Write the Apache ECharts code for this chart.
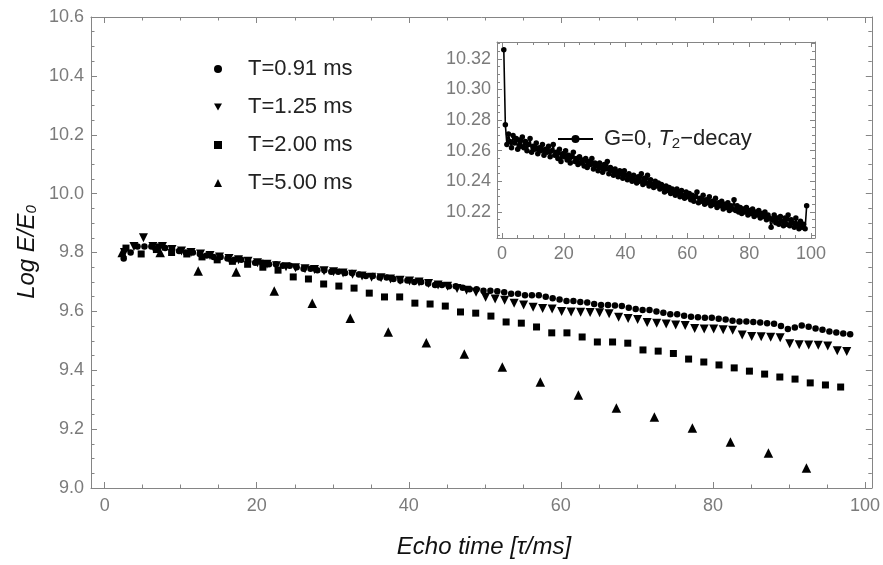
<!DOCTYPE html>
<html><head><meta charset="utf-8">
<script src="https://cdn.jsdelivr.net/npm/echarts@6/dist/echarts.min.js"></script>
<style>html,body{margin:0;padding:0;background:#fff}#c{width:883px;height:565px}</style>
</head><body><div id="c"></div>
<script>
// ---------------- data ----------------
const seriesNames = ['T=0.91 ms', 'T=1.25 ms', 'T=2.00 ms', 'T=5.00 ms'];
const insetName = 'G=0, T2-decay';

// echo-time grids (first echo, echo spacing) in ms
const t091Start = 2.5, t091Step = 0.91;
const t125Start = 2.6, t125Step = 1.25;
const t200Start = 2.8, t200Step = 2.0;
const t500Start = 2.3, t500Step = 5.0;
const insetStart = 0.6, insetStep = 0.5;

const t091Values = [9.78,9.80,9.82,9.82,9.82,9.82,9.815,9.81,9.805,9.80,9.80,9.795,9.79,9.785,9.785,9.78,9.775,9.775,9.77,9.765,
9.765,9.76,9.76,9.755,9.755,9.75,9.745,9.745,9.74,9.74,9.735,9.735,9.73,9.73,9.725,9.72,9.72,9.715,9.715,9.71,
9.705,9.705,9.70,9.70,9.695,9.69,9.69,9.685,9.685,9.68,9.675,9.675,9.67,9.67,9.668,9.665,9.66,9.66,9.655,9.655,
9.655,9.65,9.645,9.64,9.635,9.635,9.632,9.63,9.625,9.622,9.622,9.62,9.618,9.612,9.608,9.605,9.605,9.60,9.595,9.59,
9.59,9.585,9.582,9.58,9.578,9.578,9.575,9.572,9.568,9.566,9.566,9.564,9.562,9.56,9.558,9.55,9.54,9.545,9.552,9.548,
9.542,9.538,9.532,9.528,9.525,9.522];

const t125Values = [9.80,9.82,9.85,9.82,9.82,9.81,9.805,9.80,9.795,9.79,9.785,9.78,9.775,9.77,9.765,9.76,9.755,9.752,9.748,9.745,
9.742,9.738,9.735,9.73,9.726,9.72,9.716,9.714,9.71,9.706,9.703,9.70,9.695,9.69,9.685,9.678,9.672,9.665,9.648,9.642,
9.638,9.628,9.622,9.614,9.61,9.608,9.60,9.598,9.597,9.596,9.595,9.592,9.58,9.576,9.572,9.562,9.56,9.557,9.554,9.552,
9.542,9.54,9.54,9.538,9.536,9.52,9.515,9.514,9.512,9.51,9.49,9.487,9.486,9.485,9.482,9.466,9.464];

const t200Values = [9.815,9.795,9.81,9.80,9.795,9.785,9.775,9.77,9.76,9.75,9.74,9.717,9.71,9.693,9.686,9.679,9.662,9.649,9.649,9.628,
9.625,9.618,9.598,9.594,9.584,9.564,9.56,9.547,9.527,9.527,9.513,9.496,9.496,9.492,9.469,9.465,9.457,9.438,9.428,9.418,
9.408,9.397,9.387,9.377,9.37,9.357,9.35,9.343];

const t500Values = [9.80,9.80,9.737,9.734,9.669,9.628,9.577,9.530,9.493,9.455,9.411,9.360,9.316,9.272,9.241,9.204,9.156,9.119,9.068];

const insetValues = [10.326,10.277,
10.264,10.271,10.266,10.262,10.270,10.265,10.268,10.261,10.267,
10.263,10.269,10.262,10.266,10.260,10.264,10.268,10.259,10.263,10.261,
10.265,10.258,10.262,10.260,10.264,10.257,10.261,10.259,10.263,10.256,
10.260,10.264,10.257,10.259,10.255,10.261,10.253,10.258,10.256,10.260,
10.254,10.257,10.252,10.256,10.259,10.253,10.255,10.251,10.256,10.252,
10.254,10.250,10.255,10.249,10.253,10.251,10.255,10.248,10.252,10.250,
10.247,10.252,10.249,10.246,10.251,10.248,10.253,10.245,10.249,10.247,
10.244,10.248,10.246,10.243,10.247,10.245,10.242,10.247,10.244,10.241,
10.245,10.242,10.240,10.244,10.241,10.239,10.243,10.240,10.245,10.238,
10.242,10.239,10.244,10.237,10.241,10.238,10.236,10.240,10.237,10.239,
10.235,10.238,10.236,10.233,10.237,10.234,10.236,10.232,10.235,10.233,
10.231,10.235,10.232,10.230,10.234,10.231,10.229,10.233,10.230,10.232,
10.228,10.231,10.227,10.230,10.233,10.226,10.229,10.227,10.231,10.225,
10.228,10.226,10.230,10.224,10.227,10.225,10.229,10.223,10.226,10.224,
10.227,10.222,10.225,10.223,10.226,10.221,10.224,10.222,10.228,10.221,
10.224,10.220,10.223,10.219,10.222,10.220,10.223,10.218,10.221,10.219,
10.222,10.217,10.220,10.218,10.221,10.216,10.219,10.217,10.220,10.215,
10.218,10.216,10.210,10.215,10.218,10.213,10.216,10.212,10.217,10.214,
10.211,10.216,10.212,10.218,10.211,10.215,10.213,10.210,10.216,10.212,
10.209,10.214,10.210,10.212,10.209,10.224];

const mainXTicks = [0, 20, 40, 60, 80, 100];
const mainYTicks = [9.0, 9.2, 9.4, 9.6, 9.8, 10.0, 10.2, 10.4, 10.6];
const insetXTicks = [0, 20, 40, 60, 80, 100];
const insetYTicks = [10.22, 10.24, 10.26, 10.28, 10.30, 10.32];

// ---------------- helpers ----------------
function pairs(start, step, vals) { return vals.map((v, i) => [+(start + i * step).toFixed(3), v]); }
function minors(ticks, n, lo, hi) {
  const out = []; const D = ticks[1] - ticks[0]; const d = D / n;
  const first = ticks[0] - 5 * D;
  for (let k = 0; k < 300; k++) {
    const v = +(first + k * d).toFixed(6);
    const r = (v - ticks[0]) / D;
    if (v > lo && v < hi && Math.abs(r - Math.round(r)) > 1e-6) out.push(v);
  }
  return out;
}
const frameColor = '#858585';
const labelColor = '#7b7b7b';
const fontFam = 'Liberation Sans, Arial, sans-serif';

function axis(gridIndex, pos, min, max, ticks, tickLen, showLine, labels, fmt, margin) {
  return {
    type: 'value', gridIndex, position: pos, min, max,
    axisLine: { show: showLine, onZero: false, lineStyle: { color: frameColor, width: 1 } },
    axisTick: { show: true, inside: true, length: tickLen, customValues: ticks, lineStyle: { color: frameColor, width: 1 } },
    axisLabel: labels ? { show: true, customValues: ticks, formatter: fmt, color: labelColor, fontSize: 18, fontFamily: fontFam, margin } : { show: false },
    splitLine: { show: false }, minorTick: { show: false }
  };
}

const mX = [-1.8, 100.9], mY = [9.0, 10.6];
const iX = [-1.6, 101.3], iY = [10.203, 10.331];
const mXmin = minors(mainXTicks, 4, mX[0], mX[1]);
const mYmin = minors(mainYTicks, 4, mY[0], mY[1]);
const iXmin = minors(insetXTicks, 4, iX[0], iX[1]);
const iYmin = minors(insetYTicks, 4, iY[0], iY[1]);
const fInt = v => String(Math.round(v));
const f1 = v => v.toFixed(1);
const f2 = v => v.toFixed(2);

const xAxes = [
  axis(0, 'bottom', mX[0], mX[1], mainXTicks, 6, true, true, fInt, 9),
  axis(0, 'bottom', mX[0], mX[1], mXmin, 3.5, false, false),
  axis(0, 'top', mX[0], mX[1], mainXTicks, 6, true, false),
  axis(0, 'top', mX[0], mX[1], mXmin, 3.5, false, false),
  axis(1, 'bottom', iX[0], iX[1], insetXTicks, 5, true, true, fInt, 7),
  axis(1, 'bottom', iX[0], iX[1], iXmin, 3, false, false),
  axis(1, 'top', iX[0], iX[1], insetXTicks, 5, true, false),
  axis(1, 'top', iX[0], iX[1], iXmin, 3, false, false)
];
const yAxes = [
  axis(0, 'left', mY[0], mY[1], mainYTicks, 6, true, true, f1, 7),
  axis(0, 'left', mY[0], mY[1], mYmin, 3.5, false, false),
  axis(0, 'right', mY[0], mY[1], mainYTicks, 6, true, false),
  axis(0, 'right', mY[0], mY[1], mYmin, 3.5, false, false),
  axis(1, 'left', iY[0], iY[1], insetYTicks, 5, true, true, f2, 6),
  axis(1, 'left', iY[0], iY[1], iYmin, 3, false, false),
  axis(1, 'right', iY[0], iY[1], insetYTicks, 5, true, false),
  axis(1, 'right', iY[0], iY[1], iYmin, 3, false, false)
];

function sc(name, data, symbol, size, rot) {
  return { name, type: 'scatter', xAxisIndex: 0, yAxisIndex: 0, data, symbol, symbolSize: size, symbolRotate: rot || 0,
    itemStyle: { color: '#000', opacity: 1 }, emphasis: { disabled: true }, animation: false };
}

const option = {
  animation: false,
  backgroundColor: '#fff',
  grid: [
    { left: 91, top: 17, width: 786, height: 471 },
    { left: 497, top: 42, width: 318, height: 196 }
  ],
  xAxis: xAxes,
  yAxis: yAxes,
  legend: [
    { data: [
        { name: seriesNames[0], icon: 'circle' },
        { name: seriesNames[1], icon: 'path://M0,0L10,0L5,9Z' },
        { name: seriesNames[2], icon: 'rect' },
        { name: seriesNames[3], icon: 'triangle' }
      ],
      orient: 'vertical', left: 209, top: 53, itemWidth: 8, itemHeight: 8, itemGap: 16,
      selectedMode: false, itemStyle: { color: '#000' },
      textStyle: { fontSize: 22, lineHeight: 20, color: '#222', fontFamily: fontFam, padding: [0, 0, 0, 21] } },
    { data: [insetName], left: 552, top: 123, itemWidth: 35, itemHeight: 10, selectedMode: false,
      formatter: () => '{n|G=0, }{i|T}{s|2}{n|\u2212decay}',
      textStyle: { color: '#222', fontFamily: fontFam, padding: [0, 0, 0, 6],
        rich: { n: { fontSize: 22, fontFamily: fontFam, color: '#222' },
                i: { fontSize: 22, fontStyle: 'italic', fontFamily: fontFam, color: '#222' },
                s: { fontSize: 15, fontFamily: fontFam, color: '#222', padding: [10, 0, 0, 0] } } } }
  ],
  series: [
    sc(seriesNames[0], pairs(t091Start, t091Step, t091Values), 'circle', 6.5),
    sc(seriesNames[1], pairs(t125Start, t125Step, t125Values), 'triangle', 9, 180),
    sc(seriesNames[2], pairs(t200Start, t200Step, t200Values), 'rect', 7),
    sc(seriesNames[3], pairs(t500Start, t500Step, t500Values), 'triangle', 9.5),
    { name: insetName, type: 'line', xAxisIndex: 4, yAxisIndex: 4, data: pairs(insetStart, insetStep, insetValues),
      symbol: 'circle', symbolSize: 5.5, showSymbol: true, showAllSymbol: true, lineStyle: { color: '#000', width: 1.6 }, itemStyle: { color: '#000' },
      emphasis: { disabled: true }, animation: false }
  ],
  graphic: [
    { type: 'text', x: 27, y: 252, rotation: Math.PI / 2,
      style: { text: '{a|Log E/E}{b|0}', align: 'center', verticalAlign: 'middle',
        rich: { a: { fontSize: 24, fontStyle: 'italic', fontFamily: fontFam, fill: '#111' },
                b: { fontSize: 15, fontStyle: 'italic', fontFamily: fontFam, fill: '#111', padding: [10, 0, 0, 0] } } } },
    { type: 'text', x: 484, y: 547,
      style: { text: 'Echo time [\u03c4/ms]', align: 'center', verticalAlign: 'middle', fontSize: 24, fontStyle: 'italic', fontFamily: fontFam, fill: '#111' } }
  ]
};
const chart = echarts.init(document.getElementById('c'), null, { renderer: 'canvas' });
chart.setOption(option);
</script></body></html>
